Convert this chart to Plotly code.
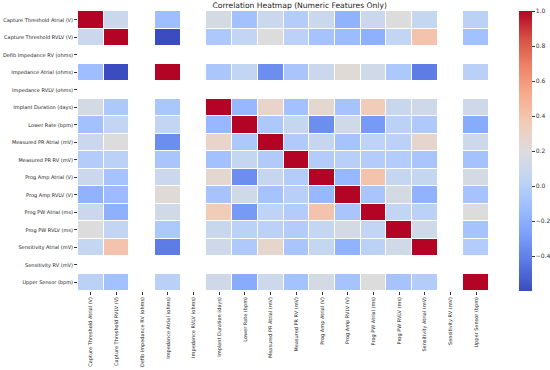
import plotly.graph_objects as go

features = [
    "Capture Threshold Atrial (V)",
    "Capture Threshold RVLV (V)",
    "Defib Impedance RV (ohms)",
    "Impedance Atrial (ohms)",
    "Impedance RVLV (ohms)",
    "Implant Duration (days)",
    "Lower Rate (bpm)",
    "Measured PR Atrial (mV)",
    "Measured PR RV (mV)",
    "Prog Amp Atrial (V)",
    "Prog Amp RVLV (V)",
    "Prog PW Atrial (ms)",
    "Prog PW RVLV (ms)",
    "Sensitivity Atrial (mV)",
    "Sensitivity RV (mV)",
    "Upper Sensor (bpm)",
]

N = None
corr = [
    [1.00, 0.10, N, -0.12, N, 0.15, -0.10, 0.10, -0.02, 0.10, -0.18, 0.10, 0.20, 0.07, N, 0.02],
    [0.10, 1.00, N, -0.60, N, -0.05, 0.05, 0.20, 0.02, -0.08, -0.13, -0.19, 0.05, 0.40, N, -0.10],
    [N, N, N, N, N, N, N, N, N, N, N, N, N, N, N, N],
    [-0.12, -0.60, N, 1.00, N, -0.06, 0.05, -0.35, -0.07, 0.10, 0.22, 0.13, -0.05, -0.42, N, 0.01],
    [N, N, N, N, N, N, N, N, N, N, N, N, N, N, N, N],
    [0.15, -0.05, N, -0.06, N, 1.00, -0.15, 0.28, -0.10, 0.25, -0.08, 0.35, 0.09, 0.12, N, 0.12],
    [-0.10, 0.05, N, 0.05, N, -0.15, 1.00, -0.05, 0.07, -0.35, 0.13, -0.30, 0.02, -0.04, N, -0.22],
    [0.10, 0.20, N, -0.35, N, 0.28, -0.05, 1.00, -0.03, 0.08, -0.08, 0.03, 0.02, 0.27, N, 0.11],
    [-0.02, 0.02, N, -0.07, N, -0.10, 0.07, -0.03, 1.00, -0.02, 0.00, -0.02, -0.02, -0.07, N, -0.09],
    [0.10, -0.08, N, 0.10, N, 0.25, -0.35, 0.08, -0.02, 1.00, -0.15, 0.40, 0.07, 0.07, N, 0.15],
    [-0.18, -0.13, N, 0.22, N, -0.08, 0.13, -0.08, 0.00, -0.15, 1.00, -0.07, 0.15, -0.18, N, -0.08],
    [0.10, -0.19, N, 0.13, N, 0.35, -0.30, 0.03, -0.02, 0.40, -0.07, 1.00, 0.05, 0.02, N, 0.20],
    [0.20, 0.05, N, -0.05, N, 0.09, 0.02, 0.02, -0.02, 0.07, 0.15, 0.05, 1.00, 0.13, N, -0.08],
    [0.07, 0.40, N, -0.42, N, 0.12, -0.04, 0.27, -0.07, 0.07, -0.18, 0.02, 0.13, 1.00, N, -0.02],
    [N, N, N, N, N, N, N, N, N, N, N, N, N, N, N, N],
    [0.02, -0.10, N, 0.01, N, 0.12, -0.22, 0.11, -0.09, 0.15, -0.08, 0.20, -0.08, -0.02, N, 1.00],
]

cbar_ticks = [-0.4, -0.2, 0.0, 0.2, 0.4, 0.6, 0.8, 1.0]

coolwarm = [
    [0.0, "#3b4cc0"], [0.1, "#5977e3"], [0.2, "#7b9ff9"], [0.3, "#9ebeff"],
    [0.4, "#c0d4f5"], [0.5, "#dddcdc"], [0.6, "#f2cbb7"], [0.7, "#f7ac8e"],
    [0.8, "#ee8468"], [0.9, "#d65244"], [1.0, "#b40426"],
]

vals = [v for row in corr for v in row if v is not None]

fig = go.Figure(go.Heatmap(
    z=corr, x=features, y=features,
    colorscale=coolwarm, zmin=min(vals), zmax=max(vals),
    xgap=1, ygap=1, hoverongaps=False,
    colorbar=dict(
        thickness=13, len=1.0, lenmode="fraction", y=0.5, yanchor="middle",
        x=1.073, xanchor="left", outlinewidth=0, xpad=0, ypad=0,
        tickvals=cbar_ticks, tickformat=".1f", ticks="outside", ticklen=3,
        tickwidth=0.6, tickcolor="#333", tickfont=dict(size=6, color="#333"),
    ),
))

tickfont = dict(family="DejaVu Sans", size=5.0, color="#222")
fig.update_layout(
    width=550, height=370,
    margin=dict(l=78, r=61, t=11, b=79, autoexpand=False),
    paper_bgcolor="white", plot_bgcolor="white",
    font=dict(family="DejaVu Sans"),
    title=dict(text="Correlation Heatmap (Numeric Features Only)",
               x=0.545, xanchor="center", y=0.993, yanchor="top",
               font=dict(family="DejaVu Sans", size=7.6, color="#222")),
)
fig.update_xaxes(tickangle=-90, tickfont=tickfont, ticks="outside", ticklen=3,
                 tickwidth=0.6, tickcolor="#333", showgrid=False, zeroline=False,
                 automargin=False)
fig.update_yaxes(autorange="reversed", tickfont=tickfont, ticks="outside", ticklen=3,
                 tickwidth=0.6, tickcolor="#333", showgrid=False, zeroline=False,
                 automargin=False)

fig.write_html("out.html", config={"displayModeBar": False},
               post_script="document.body.style.margin='0';document.body.style.overflow='hidden';")
